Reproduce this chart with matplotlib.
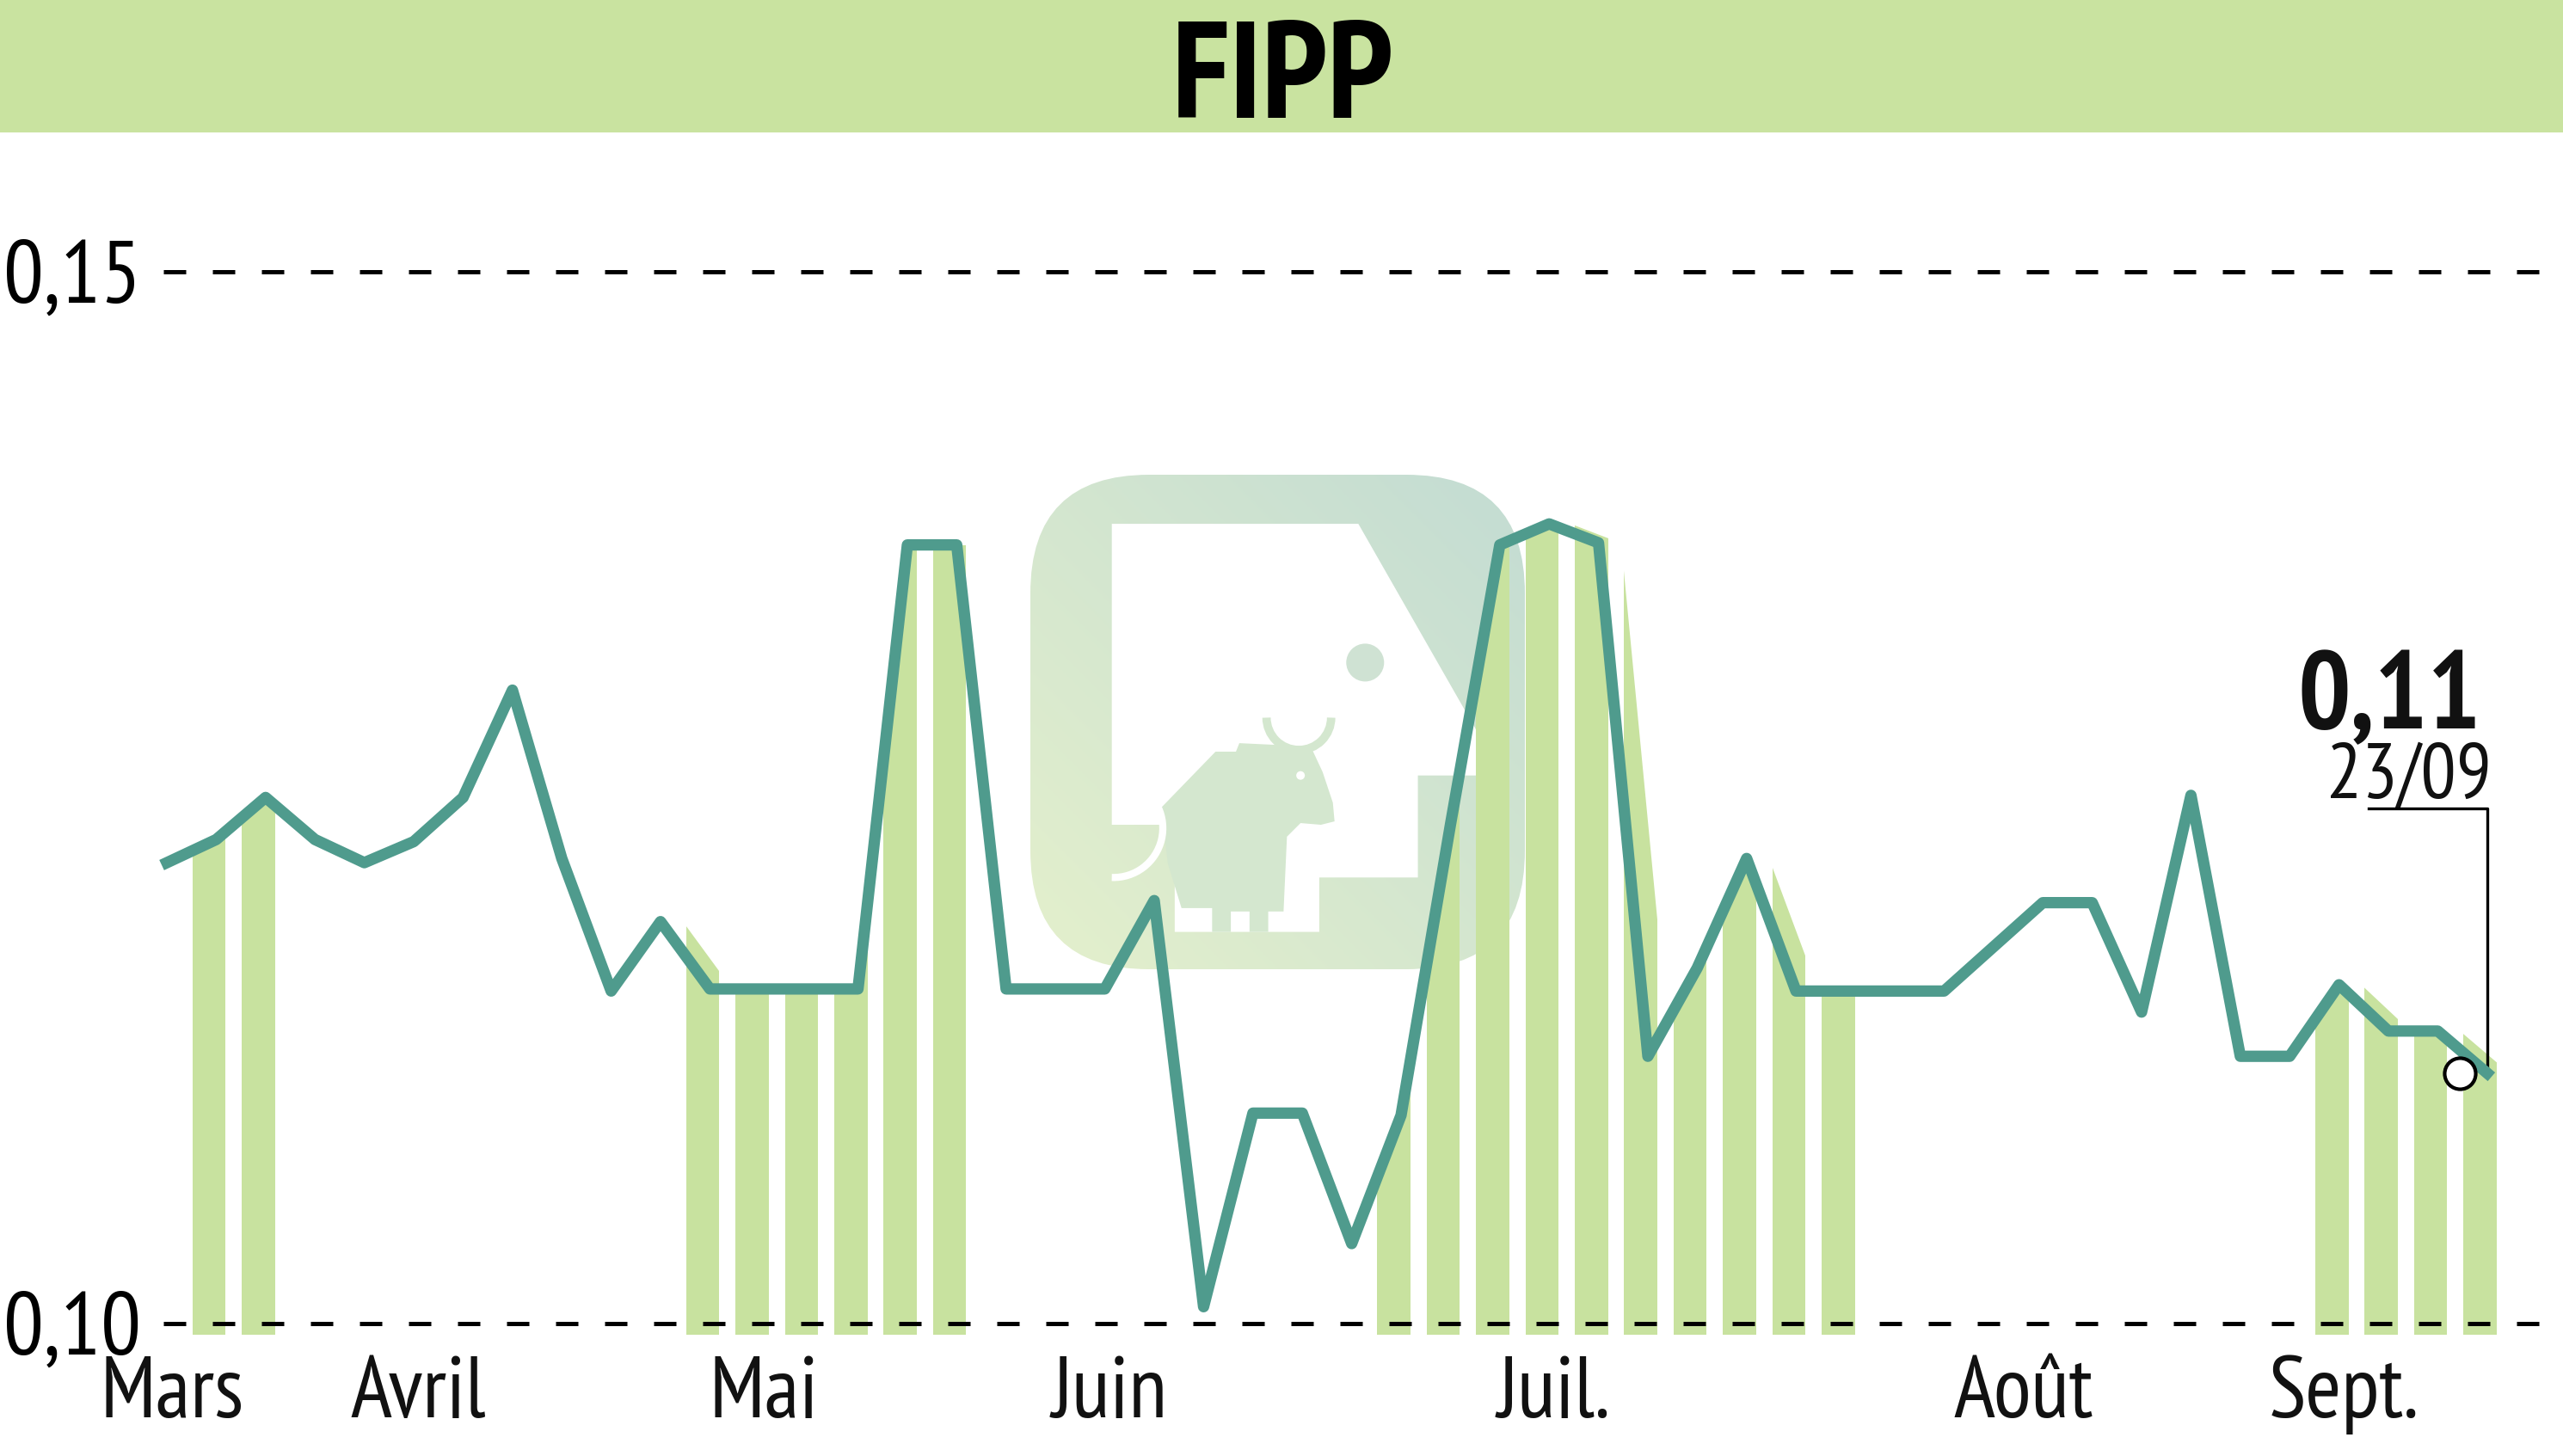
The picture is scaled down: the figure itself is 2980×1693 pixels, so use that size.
import numpy as np
import matplotlib.pyplot as plt
from matplotlib.patches import FancyBboxPatch, Polygon, Circle, Arc, Rectangle, PathPatch
from matplotlib.path import Path
from matplotlib.transforms import blended_transform_factory

# cours de cloture, une valeur par seance
prices = [0.1219, 0.1230, 0.1250, 0.1230, 0.1219, 0.1229, 0.1250, 0.1301, 0.1221, 0.1158,
          0.1191, 0.1159, 0.1159, 0.1159, 0.1159, 0.1370, 0.1370, 0.1159, 0.1159, 0.1159,
          0.1201, 0.1008, 0.1100, 0.1100, 0.1038, 0.1099, 0.1237, 0.1370, 0.1380, 0.1371,
          0.1127, 0.1169, 0.1221, 0.1158, 0.1158, 0.1158, 0.1158, 0.1179, 0.1200, 0.1200,
          0.1148, 0.1251, 0.1127, 0.1127, 0.1161, 0.1139, 0.1139, 0.1119]
# seances avec une barre verte
bar_days = [1, 2, 11, 12, 13, 14, 15, 16,
            25, 26, 27, 28, 29, 30, 31, 32, 33, 34,
            44, 45, 46, 47]
month_labels = ['Mars', 'Avril', 'Mai', 'Juin', 'Juil.', 'Août', 'Sept.']
month_pos = [0.1, 5.1, 12.1, 19.1, 28.1, 37.6, 44.1]
y_ticks = [0.10, 0.15]
y_tick_labels = ['0,10', '0,15']
title = 'FIPP'
last_label = '0,11'
last_date = '23/09'

TEAL = '#4f9b8d'
GREEN = '#c8e29f'
NARROW = ['PT Sans Narrow', 'DejaVu Sans']

W, H = 2980, 1693
fig = plt.figure(figsize=(W / 100, H / 100), dpi=100)

# calque de fond en pixels (bandeau, filigrane, textes)
ov = fig.add_axes([0, 0, 1, 1], zorder=0)
ov.set_xlim(0, W)
ov.set_ylim(H, 0)
ov.axis('off')

ov.add_patch(Rectangle((0, 0), W, 154, color='#c9e3a0', lw=0))
ov.text(1492, 137, title, ha='center', va='baseline', fontsize=115,
        fontweight='bold', family=NARROW, color='black')

# filigrane
def wm(zx, zy):
    return 1180 + zx / 2.529, 530 + zy / 2.529

box = FancyBboxPatch((1198, 552), 575, 575, boxstyle='round,pad=0,rounding_size=138',
                     fc='none', lw=0)
ov.add_patch(box)
u = np.linspace(0, 1, 200)
U, V = np.meshgrid(u, u)
t = (U + (1 - V)) / 2
c_tr = np.array([0xc3, 0xdc, 0xd3]) / 255
c_bl = np.array([0xe4, 0xf0, 0xcc]) / 255
img = c_bl + t[..., None] * (c_tr - c_bl)
im = ov.imshow(img, extent=(1198, 1773, 1127, 552), origin='upper', aspect='auto', zorder=1)
im.set_clip_path(box)

page = [(285, 200), (1010, 200), (1370, 830), (1370, 940), (1185, 940), (1185, 1240),
        (895, 1240), (895, 1400), (470, 1400), (470, 1085), (285, 1085)]
ov.add_patch(Polygon([wm(*p) for p in page], closed=True, fc='white', lw=0, zorder=2))
bull = [(430, 1035), (590, 870), (650, 870), (660, 845), (870, 855), (905, 930), (935, 1020),
        (940, 1075), (900, 1085), (840, 1080), (800, 1120), (790, 1340), (745, 1340),
        (745, 1400), (690, 1400), (690, 1340), (635, 1340), (635, 1400), (580, 1400),
        (580, 1330), (490, 1330), (450, 1200)]
BULL = '#d4e7cf'
ov.add_patch(Polygon([wm(*p) for p in bull], closed=True, fc=BULL, lw=0, zorder=3))
ov.add_patch(Arc(wm(835, 770), 190 / 2.529, 190 / 2.529, theta1=0, theta2=180,
                 color=BULL, lw=7, zorder=3))
ov.add_patch(Circle(wm(840, 940), 5, fc='white', lw=0, zorder=4))
ov.add_patch(Circle(wm(1030, 608), 22, fc='#cfe2d3', lw=0, zorder=3))
ov.add_patch(Arc(wm(290, 1095), 290 / 2.529, 290 / 2.529, theta1=-65, theta2=92,
                 color='white', lw=6, zorder=4))

# axe principal
x0_px, step_px = 194, 57.4
left_px, top_px, bot_px = 100, 200, 1548
y10_px, y15_px = 1539, 315.5
ppv = (y10_px - y15_px) / 0.05
ax = fig.add_axes([left_px / W, 1 - bot_px / H, (W - left_px) / W, (bot_px - top_px) / H], zorder=1)
ax.patch.set_alpha(0)
ax.set_xlim((left_px - x0_px) / step_px, (W - x0_px) / step_px)
ax.set_ylim(0.10 - (bot_px - y10_px) / ppv, 0.10 + (y10_px - top_px) / ppv)
ax.axis('off')

idx = np.arange(len(prices))

# barres vertes : aire sous la courbe, decoupee en bandes
stripes = [Path([(k - 0.48, 0.09), (k + 0.19, 0.09), (k + 0.19, 0.2), (k - 0.48, 0.2), (k - 0.48, 0.09)])
           for k in bar_days]
clip = PathPatch(Path.make_compound_path(*stripes), transform=ax.transData)
for shift in (0, 0.45):
    area = ax.fill_between(idx + shift, 0.0995, prices, color=GREEN, lw=0, zorder=1)
    area.set_clip_path(clip)

# lignes pointillees
ax.hlines(y_ticks, (190 - x0_px) / step_px, ax.get_xlim()[1], colors='black', lw=3.6,
          linestyles=[(0, (5.2, 6.2))], zorder=2)

# rappel du dernier cours
y_call = 0.10 + (y10_px - 940) / ppv
ax.plot([idx[-1] - 2.4, idx[-1], idx[-1]], [y_call, y_call, prices[-1]], color='black',
        lw=2.4, zorder=2.5, clip_on=False)

ax.plot(idx, prices, color=TEAL, lw=9.5, solid_joinstyle='round', zorder=3, clip_on=False)
ax.plot(idx[-1] - 0.55, prices[-1], 'o', ms=26, mfc='white', mec='black', mew=3, zorder=5)

# textes
ytr = blended_transform_factory(ov.transData, ax.transData)
for v, lab in zip(y_ticks, y_tick_labels):
    ov.text(164, v, lab, transform=ytr, ha='right', va='center_baseline', fontsize=75,
            family=NARROW, color='black')
xtr = blended_transform_factory(ax.transData, ov.transData)
for p, lab in zip(month_pos, month_labels):
    ov.text(p, 1648, lab, transform=xtr, ha='center', va='baseline', fontsize=73,
            family=NARROW, color='#111111')

ov.text(2885, 847, last_label, ha='right', va='baseline', fontsize=93, fontweight='bold',
        family=NARROW, color='#111111')
ov.text(2897, 928, last_date, ha='right', va='baseline', fontsize=66, family=NARROW,
        color='#111111')

fig.savefig('out.png', dpi=100)
